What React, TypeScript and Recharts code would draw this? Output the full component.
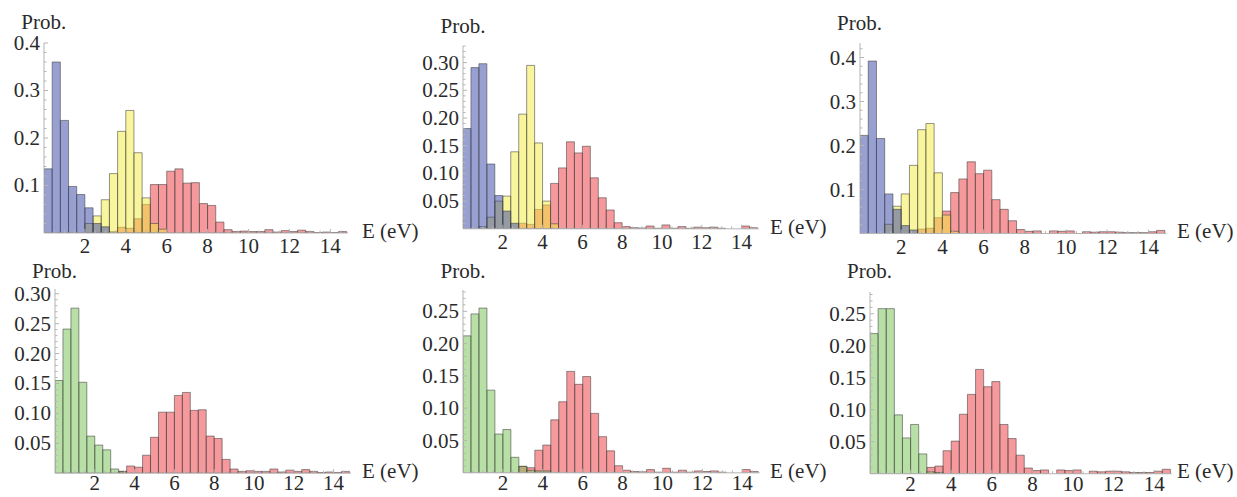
import { BarChart, Bar, XAxis, YAxis } from 'recharts';

// bin centres (eV), bin width 0.4
const binCenters = [
  0.2, 0.6, 1, 1.4, 1.8, 2.2, 2.6, 3, 3.4, 3.8, 4.2, 4.6, 5, 5.4, 5.8, 6.2, 6.6, 7, 7.4,
  7.8, 8.2, 8.6, 9, 9.4, 9.8, 10.2, 10.6, 11, 11.4, 11.8, 12.2, 12.6, 13, 13.4, 13.8, 14.2, 14.6,
];
const xMajor = [2, 4, 6, 8, 10, 12, 14];

// column 1
const blue1 = [0.135, 0.36, 0.237, 0.098, 0.081, 0.053, 0.02, 0.013, 0, 0, 0, 0, 0, 0, 0, 0, 0, 0, 0, 0, 0, 0, 0, 0, 0, 0, 0, 0, 0, 0, 0, 0, 0, 0, 0, 0, 0];
const yellow1 = [0, 0, 0, 0, 0, 0.02, 0.036, 0.07, 0.125, 0.214, 0.258, 0.169, 0.074, 0.02, 0.008, 0, 0, 0, 0, 0, 0, 0, 0, 0, 0, 0, 0, 0, 0, 0, 0, 0, 0, 0, 0, 0, 0];
const red1 = [0, 0, 0, 0, 0, 0, 0, 0, 0.003, 0.012, 0.01, 0.03, 0.06, 0.102, 0.102, 0.13, 0.135, 0.105, 0.106, 0.062, 0.058, 0.023, 0.007, 0.003, 0.004, 0.003, 0.003, 0.007, 0.002, 0.005, 0.003, 0.006, 0.003, 0.001, 0.002, 0.001, 0.003];
const green1 = [0.155, 0.241, 0.276, 0.152, 0.062, 0.047, 0.039, 0.007, 0.003, 0, 0, 0, 0, 0, 0, 0, 0, 0, 0, 0, 0, 0, 0, 0, 0, 0, 0, 0, 0, 0, 0, 0, 0, 0, 0, 0, 0];

// column 2
const blue2 = [0.181, 0.291, 0.298, 0.117, 0.06, 0.032, 0.01, 0, 0, 0, 0, 0, 0, 0, 0, 0, 0, 0, 0, 0, 0, 0, 0, 0, 0, 0, 0, 0, 0, 0, 0, 0, 0, 0, 0, 0, 0];
const yellow2 = [0, 0, 0.004, 0.021, 0.05, 0.059, 0.139, 0.207, 0.295, 0.155, 0.05, 0.009, 0, 0, 0, 0, 0, 0, 0, 0, 0, 0, 0, 0, 0, 0, 0, 0, 0, 0, 0, 0, 0, 0, 0, 0, 0];
const red2 = [0, 0, 0, 0, 0, 0, 0, 0.01, 0.008, 0.035, 0.043, 0.082, 0.11, 0.157, 0.137, 0.149, 0.092, 0.056, 0.034, 0.011, 0.004, 0.002, 0.0015, 0.005, 0.001, 0.007, 0.001, 0.004, 0.001, 0.003, 0.002, 0.003, 0.001, 0, 0, 0.005, 0.002];
const green2 = [0.212, 0.246, 0.255, 0.128, 0.06, 0.067, 0.024, 0.01, 0.004, 0.003, 0.003, 0, 0, 0, 0, 0, 0, 0, 0, 0, 0, 0, 0, 0, 0, 0, 0, 0, 0, 0, 0, 0, 0, 0, 0, 0, 0];

// column 3
const blue3 = [0.223, 0.392, 0.216, 0.09, 0.055, 0.018, 0.008, 0, 0, 0, 0, 0, 0, 0, 0, 0, 0, 0, 0, 0, 0, 0, 0, 0, 0, 0, 0, 0, 0, 0, 0, 0, 0, 0, 0, 0, 0];
const yellow3 = [0, 0, 0, 0.021, 0.062, 0.09, 0.155, 0.236, 0.25, 0.138, 0.042, 0.005, 0, 0, 0, 0, 0, 0, 0, 0, 0, 0, 0, 0, 0, 0, 0, 0, 0, 0, 0, 0, 0, 0, 0, 0, 0];
const red3 = [0, 0, 0, 0, 0, 0, 0, 0.01, 0.012, 0.036, 0.051, 0.093, 0.124, 0.163, 0.136, 0.144, 0.077, 0.055, 0.029, 0.009, 0.005, 0.006, 0, 0.006, 0.005, 0.006, 0, 0.004, 0.003, 0.004, 0.004, 0.003, 0.002, 0.002, 0.002, 0.004, 0.007];
const green3 = [0.219, 0.258, 0.258, 0.092, 0.056, 0.077, 0.031, 0.003, 0.002, 0, 0, 0, 0, 0, 0, 0, 0, 0, 0, 0, 0, 0, 0, 0, 0, 0, 0, 0, 0, 0, 0, 0, 0, 0, 0, 0, 0];

const BLUE = 'rgb(50,65,165)';
const YELLOW = 'rgb(243,235,57)';
const RED = 'rgb(235,51,57)';
const GREEN = 'rgb(113,191,77)';
const AXIS = '#b4b4b4';
const TEXT = '#2a2a2a';
const FONT = "'Liberation Serif', 'DejaVu Serif', serif";
const FS = 21;
const XMAX = 14.87;

// series drawn bottom → top: red first, then yellow, blue / green
const panels = [
  { x0: 43.8, y0: 232.7, ppu: 20.45, ppv: 475, yMax: 0.4, yStep: 0.1, yMinor: 0.02, digits: 1, probY: 29, eX: 362, xlab: 20.5, xh: 32, series: [[red1, RED], [yellow1, YELLOW], [blue1, BLUE]] },
  { x0: 463, y0: 229.3, ppu: 19.9, ppv: 554, yMax: 0.33, yStep: 0.05, yMinor: 0.01, digits: 2, probY: 33, eX: 770, xlab: 20.5, xh: 32, series: [[red2, RED], [yellow2, YELLOW], [blue2, BLUE]] },
  { x0: 859.5, y0: 233.3, ppu: 20.6, ppv: 440, yMax: 0.433, yStep: 0.1, yMinor: 0.02, digits: 1, probY: 29.5, eX: 1177, xlab: 20.5, xh: 32, series: [[red3, RED], [yellow3, YELLOW], [blue3, BLUE]] },
  { x0: 54.5, y0: 473.3, ppu: 19.9, ppv: 598, yMax: 0.308, yStep: 0.05, yMinor: 0.01, digits: 2, probY: 278, eX: 362, xlab: 17, xh: 23.5, series: [[red1, RED], [green1, GREEN]] },
  { x0: 463, y0: 473.3, ppu: 19.95, ppv: 646, yMax: 0.283, yStep: 0.05, yMinor: 0.01, digits: 2, probY: 278, eX: 770, xlab: 17, xh: 23.5, series: [[red2, RED], [green2, GREEN]] },
  { x0: 869.5, y0: 473.3, ppu: 20.3, ppv: 640, yMax: 0.284, yStep: 0.05, yMinor: 0.01, digits: 2, probY: 278, eX: 1177, xlab: 17, xh: 23.5, series: [[red3, RED], [green3, GREEN]] },
];

const xTicks: number[] = [];
for (let k = 1; k <= 29; k++) xTicks.push(k * 0.5);

function XTick(props: any) {
  const { x, y, payload, off } = props;
  const major = xMajor.includes(payload.value);
  return (
    <g>
      <line x1={x} x2={x} y1={y} y2={y - (major ? 4 : 2.5)} stroke={AXIS} />
      {major && (
        <text x={x} y={y + off} textAnchor="middle" style={{ fontFamily: FONT, fontSize: FS }} fill={TEXT}>
          {payload.value}
        </text>
      )}
    </g>
  );
}

function YTick(props: any) {
  const { x, y, payload, step, digits } = props;
  const r = payload.value / step;
  const major = Math.abs(r - Math.round(r)) < 1e-6;
  return (
    <g>
      <line x1={x} x2={x + (major ? 4 : 2.5)} y1={y} y2={y} stroke={AXIS} />
      {major && (
        <text x={x - 4} y={y + 7} textAnchor="end" style={{ fontFamily: FONT, fontSize: FS }} fill={TEXT}>
          {payload.value.toFixed(digits)}
        </text>
      )}
    </g>
  );
}

function Panel({ cfg }: { cfg: any }) {
  const ML = 60, MT = 16, MR = 10, XH = cfg.xh;
  const plotW = XMAX * cfg.ppu;
  const plotH = cfg.yMax * cfg.ppv;
  const rows = binCenters.map((x, i) => {
    const r: any = { x };
    cfg.series.forEach((s: any, k: number) => (r['s' + k] = s[0][i]));
    return r;
  });
  const yTicks: number[] = [];
  for (let k = 1; k * cfg.yMinor <= cfg.yMax + 1e-9; k++) yTicks.push(Math.round(k * cfg.yMinor * 1000) / 1000);
  const barPx = 0.4 * cfg.ppu - 0.02;
  return (
    <div style={{ position: 'absolute', left: cfg.x0 - ML, top: cfg.y0 - plotH - MT }}>
      <BarChart width={ML + plotW + MR} height={MT + plotH + XH} data={rows} margin={{ top: MT, right: MR, bottom: 0, left: 0 }}>
        {cfg.series.map((_: any, k: number) => (
          <XAxis
            key={'ax' + k}
            xAxisId={'s' + k}
            type="number"
            dataKey="x"
            domain={[0, XMAX]}
            allowDataOverflow
            hide={k > 0}
            ticks={xTicks}
            interval={0}
            tickSize={0}
            tickMargin={0}
            tick={(p: any) => <XTick {...p} off={cfg.xlab} />}
            axisLine={{ stroke: AXIS }}
            height={XH}
          />
        ))}
        <YAxis
          type="number"
          domain={[0, cfg.yMax]}
          allowDataOverflow
          ticks={yTicks}
          interval={0}
          width={ML}
          tickSize={0}
          tickMargin={0}
          tick={(p: any) => <YTick {...p} step={cfg.yStep} digits={cfg.digits} />}
          axisLine={{ stroke: AXIS }}
        />
        {cfg.series.map((s: any, k: number) => (
          <Bar
            key={'b' + k}
            xAxisId={'s' + k}
            dataKey={'s' + k}
            fill={s[1]}
            fillOpacity={0.5}
            stroke="rgb(60,60,60)"
            strokeOpacity={0.55}
            strokeWidth={1}
            barSize={barPx}
            isAnimationActive={false}
          />
        ))}
      </BarChart>
    </div>
  );
}

export default function App() {
  return (
    <div style={{ position: 'absolute', left: 0, top: 0, width: 1237, height: 497, background: '#fff', overflow: 'hidden' }}>
      {panels.map((cfg, i) => (
        <Panel key={i} cfg={cfg} />
      ))}
      <svg width={1237} height={497} style={{ position: 'absolute', left: 0, top: 0, pointerEvents: 'none' }}>
        {panels.map((cfg, i) => (
          <g key={i} style={{ fontFamily: FONT, fontSize: FS }} fill={TEXT}>
            <text x={cfg.x0} y={cfg.probY} textAnchor="middle">Prob.</text>
            <text x={cfg.eX} y={cfg.y0 + 5}>E (eV)</text>
          </g>
        ))}
      </svg>
    </div>
  );
}
